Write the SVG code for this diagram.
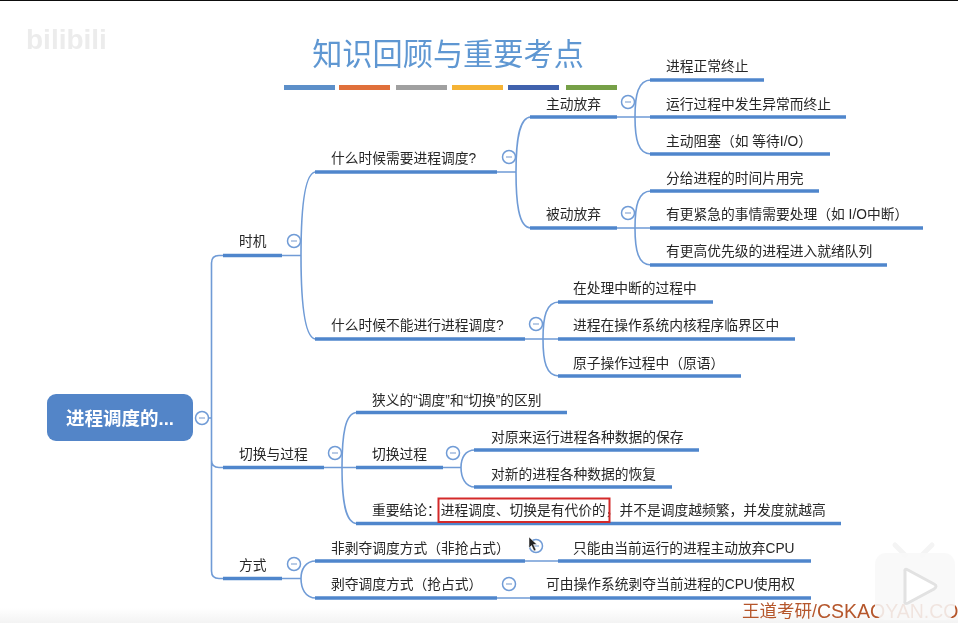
<svg xmlns="http://www.w3.org/2000/svg" width="958" height="623" viewBox="0 0 958 623">
<style>
text{font-family:"Liberation Sans","Noto Sans CJK SC",sans-serif;font-size:13.75px;fill:#262626;dominant-baseline:central}
.u{stroke:#4f86cc;stroke-width:3.4;fill:none}
.c{stroke:#6f9bd6;stroke-width:1.6;fill:none}
.k circle{fill:#fff;stroke:#6f9bd6;stroke-width:1.5}
.k path{stroke:#8aa9d6;stroke-width:1.2;fill:none}
.bar{height:5px;width:51px}
</style>
<defs>
<g id="col" class="k"><circle r="6.5"/><path d="M-3 0H3"/></g>
<linearGradient id="fade" x1="0" y1="0" x2="0" y2="1"><stop offset="0" stop-color="#fff"/><stop offset="1" stop-color="#f3f3f3"/></linearGradient>
<filter id="soft" x="0" y="0" width="100%" height="100%"><feGaussianBlur stdDeviation="0.35"/></filter>
</defs>
<rect width="958" height="623" fill="#fff"/>
<rect y="608" width="958" height="15" fill="url(#fade)"/>
<g filter="url(#soft)">
<rect width="958" height="1" fill="#111"/>
<text id="watermark" x="26" y="39" style="font-size:28px;font-weight:700;fill:#ececec">bilibili</text>
<g id="title">
<text x="448" y="52" text-anchor="middle" style="font-size:30.2px;fill:#5e97d2;font-family:'Noto Sans CJK SC',sans-serif;font-weight:400">知识回顾与重要考点</text>
<rect class="bar" x="284" y="85" fill="#5b8fc9"/>
<rect class="bar" x="339" y="85" fill="#e0703a"/>
<rect class="bar" x="396" y="85" fill="#a0a0a0"/>
<rect class="bar" x="452" y="85" fill="#f5b335"/>
<rect class="bar" x="508" y="85" fill="#3f62ad"/>
<rect class="bar" x="566" y="85" fill="#76a046"/>
</g>
<g id="connectors">
<path class="c" d="M208 418H211.5M223 255.5H219Q211.5 255.5 211.5 263V571Q211.5 578.5 219 578.5H223M211.5 460Q211.5 467.5 219 467.5H223"/>
<path class="c" d="M282 255.5H301M301 255.5C301 212 304 172 316 172M301 255.5C301 298 304 339 316 339"/>
<path class="c" d="M497 172H516M516 172C516 145 518 117 531 117M516 172C516 200 518 228 531 228"/>
<path class="c" d="M617 117H650M635 117C635 95 638 80 651 80M635 117C635 139 638 154 651 154"/>
<path class="c" d="M617 228H650M635 228C635 206 638 191 651 191M635 228C635 250 638 265 651 265"/>
<path class="c" d="M525 339H558M543 339C543 317 546 302 559 302M543 339C543 361 546 376 559 376"/>
<path class="c" d="M324 467.5H357M342 467.5C342 435 345 412.5 357 412.5M342 467.5C342 500 345 523.5 357 523.5"/>
<path class="c" d="M443 467.5H461C461 458 465 450 475 450M461 467.5C461 477 465 487 475 487"/>
<path class="c" d="M282 578.5H301C301 570 305 561 316 561M301 578.5C301 588 305 598 316 598"/>
<path class="c" d="M525 561H558"/>
<path class="c" d="M497 598H530"/>
</g>
<g id="root"><rect x="47" y="394" width="146" height="47" rx="9" fill="#5285c8"/><text x="120" y="418" text-anchor="middle" style="font-size:18.5px;font-weight:700;fill:#fff">进程调度的...</text><use href="#col" x="202" y="418"/></g>
<g id="n-timing"><path class="u" d="M223 255.5H282"/><text x="239" y="241">时机</text><use href="#col" x="294" y="241"/></g>
<g id="n-when"><path class="u" d="M315 172H497"/><text x="331" y="158">什么时候需要进程调度?</text><use href="#col" x="509" y="157"/></g>
<g id="n-active"><path class="u" d="M530 117H617"/><text x="546" y="104">主动放弃</text><use href="#col" x="628" y="102"/></g>
<g id="n-a1"><path class="u" d="M650 80H764"/><text x="666" y="66">进程正常终止</text></g>
<g id="n-a2"><path class="u" d="M650 117H846"/><text x="666" y="104">运行过程中发生异常而终止</text></g>
<g id="n-a3"><path class="u" d="M650 154H830"/><text x="666" y="141">主动阻塞（如 等待I/O）</text></g>
<g id="n-passive"><path class="u" d="M530 228H617"/><text x="546" y="214">被动放弃</text><use href="#col" x="628" y="213"/></g>
<g id="n-p1"><path class="u" d="M650 191H819"/><text x="666" y="178">分给进程的时间片用完</text></g>
<g id="n-p2"><path class="u" d="M650 228H923"/><text x="666" y="214">有更紧急的事情需要处理（如 I/O中断）</text></g>
<g id="n-p3"><path class="u" d="M650 265H887"/><text x="666" y="251">有更高优先级的进程进入就绪队列</text></g>
<g id="n-whennot"><path class="u" d="M315 339H525"/><text x="331" y="325">什么时候不能进行进程调度?</text><use href="#col" x="536" y="324"/></g>
<g id="n-w1"><path class="u" d="M558 302H713"/><text x="573" y="288">在处理中断的过程中</text></g>
<g id="n-w2"><path class="u" d="M558 339H795"/><text x="573" y="325">进程在操作系统内核程序临界区中</text></g>
<g id="n-w3"><path class="u" d="M558 376H741"/><text x="573" y="363">原子操作过程中（原语）</text></g>
<g id="n-switch"><path class="u" d="M223 467.5H324"/><text x="239" y="454">切换与过程</text><use href="#col" x="335" y="453"/></g>
<g id="n-s1"><path class="u" d="M356 412.5H567"/><text x="372" y="400">狭义的“调度”和“切换”的区别</text></g>
<g id="n-s2"><path class="u" d="M356 467.5H443"/><text x="372" y="454">切换过程</text><use href="#col" x="453" y="453"/></g>
<g id="n-s21"><path class="u" d="M474 450H699"/><text x="491" y="437">对原来运行进程各种数据的保存</text></g>
<g id="n-s22"><path class="u" d="M474 487H672"/><text x="491" y="474">对新的进程各种数据的恢复</text></g>
<g id="n-s3"><path class="u" d="M356 523.5H841"/><text x="372" y="510">重要结论：进程调度、切换是有代价的，并不是调度越频繁，并发度就越高</text><rect x="438.5" y="498.5" width="171" height="23.5" fill="none" stroke="#d42a2a" stroke-width="2"/></g>
<g id="n-mode"><path class="u" d="M223 578.5H282"/><text x="239" y="565">方式</text><use href="#col" x="294" y="564"/></g>
<g id="n-m1"><path class="u" d="M315 561H525"/><text x="331" y="548">非剥夺调度方式（非抢占式）</text><use href="#col" x="536" y="546"/></g>
<g id="n-m11"><path class="u" d="M558 561H811"/><text x="573" y="548">只能由当前运行的进程主动放弃CPU</text></g>
<g id="n-m2"><path class="u" d="M315 598H497"/><text x="331" y="584">剥夺调度方式（抢占式）</text><use href="#col" x="509" y="584"/></g>
<g id="n-m21"><path class="u" d="M530 598H811"/><text x="546" y="584">可由操作系统剥夺当前进程的CPU使用权</text></g>
<path id="cursor" d="M529 537V548L531.5 545.5L534 551L536 550L533.5 544.5H537Z" fill="#222" stroke="#fff" stroke-width=".5"/>
<text id="brand" x="742" y="611" style="font-size:17.5px;fill:#b5562c">王道考研/<tspan style="font-size:19.5px">CSKAOYAN.CO</tspan></text>
<g id="tv-logo">
<path d="M895 545L905 555M932 545L922 555" stroke="#f4f4f4" stroke-width="5" stroke-linecap="round" fill="none"/>
<rect x="875" y="553" width="80" height="67" rx="11" fill="#f8f8f8" fill-opacity=".88"/>
<path d="M905 572Q904 568 908 570L934 584Q938 586 934 589L908 603Q904 605 905 600Z" fill="#fff" stroke="#e2e2e2" stroke-width="3"/>
</g>
</g>
</svg>
